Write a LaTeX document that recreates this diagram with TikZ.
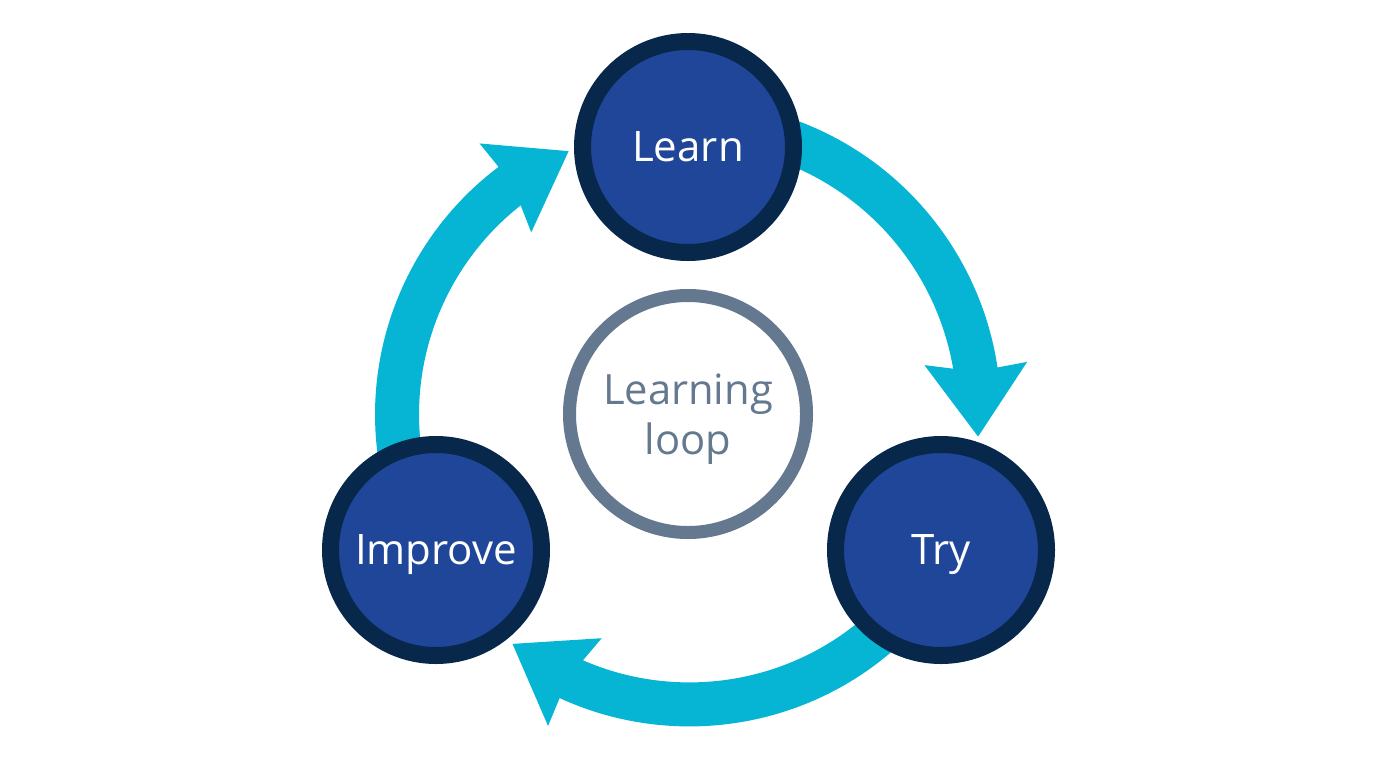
\documentclass[tikz,border=0pt]{standalone}
\usepackage{fontspec}
\setmainfont{Open Sans}
\usetikzlibrary{arrows.meta,bending,backgrounds}
\definecolor{stepdark}{RGB}{8,40,75}
\definecolor{stepblue}{RGB}{31,70,153}
\definecolor{flowcyan}{RGB}{6,180,212}
\definecolor{hubgray}{RGB}{100,120,143}
\tikzset{every picture/.style={line width=0.75pt},
  stepnode/.style={circle,draw=stepdark,fill=stepblue,line width=12.75pt,minimum size=158.25pt,inner sep=0pt,text=white,font=\fontsize{31.5}{36}\selectfont,text height=22pt,text depth=0pt},
  hubnode/.style={circle,draw=hubgray,fill=white,line width=9.75pt,minimum size=177.75pt,inner sep=0pt,text=hubgray,align=center,text depth=0pt,font=\fontsize{31.3}{37.5}\selectfont},
  flowline/.style={draw=flowcyan,line width=33pt,line join=round,-{Stealth[length=54pt,width=74pt,inset=5pt,flex=1,fill=flowcyan]}}}
\begin{document}
\begin{tikzpicture}[x=0.75pt,y=0.75pt,yscale=-1,xscale=1]
\useasboundingbox (0,0) rectangle (1376,768);

%Shape: Circle
\node [hubnode] (hub) at (688,414) {Learning\\loop};
\node [stepnode] (learn) at (688,147) {Learn};
\node [stepnode] (try) at (941,550) {Try};
\node [stepnode] (improve) at (436,550) {Improve};

%Flow arcs
\coordinate (learnout) at ([shift={(-70:291)}]hub.center);
\coordinate (tryout) at ([shift={(45:291)}]hub.center);
\coordinate (improveout) at ([shift={(170:291)}]hub.center);
\begin{scope}[on background layer]
\draw [flowline] (learn.center) -- (learnout) arc [start angle=-70,end angle=4.5,radius=291];
\draw [flowline] (try.center) -- (tryout) arc [start angle=45,end angle=127.8,radius=289];
\draw [flowline] (improve.center) -- (improveout) arc [start angle=170,end angle=246.2,radius=288];
\end{scope}

\end{tikzpicture}
\end{document}
